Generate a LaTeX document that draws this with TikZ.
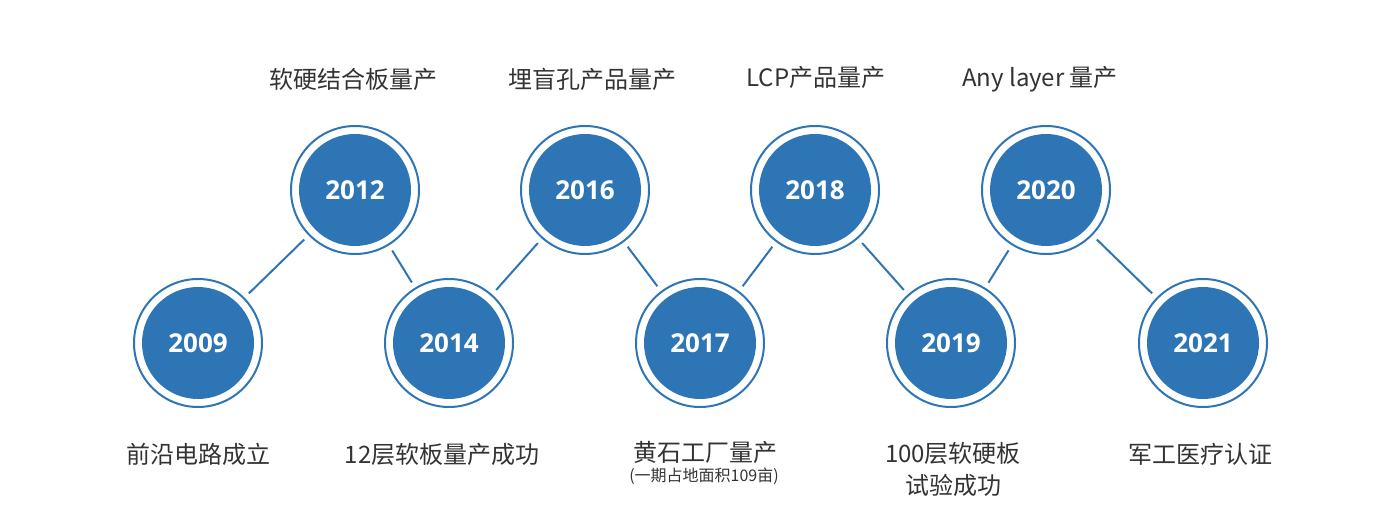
\documentclass[tikz,border=0pt]{standalone}
\usepackage{fontspec}
\setmainfont{Noto Sans CJK SC}
\newfontfamily\yearfont{Open Sans}[BoldFont={Open Sans Bold}]
\definecolor{tlblue}{HTML}{2E75B6}
\definecolor{tltext}{HTML}{333333}
\begin{document}
\begin{tikzpicture}[x=1pt,y=-1pt,
  yearnode/.style={circle,draw=tlblue,line width=2pt,minimum size=128pt,inner sep=0pt,
    path picture={\fill[tlblue] (path picture bounding box.center) circle (56pt);}},
  yeartext/.style={text=white,font=\yearfont\bfseries\fontsize{26}{30}\selectfont},
  conn/.style={draw=tlblue,line width=2pt,shorten >=6pt,shorten <=6pt},
  lbl/.style={text=tltext,font=\fontsize{24}{32}\selectfont,align=center,inner sep=0pt},
  small/.style={text=tltext,font=\fontsize{16}{20}\selectfont,inner sep=0pt}]
\useasboundingbox (0,0) rectangle (1400,518);
\node[yearnode] (c09) at (198,343) {};
\node[yearnode] (c12) at (355,190) {};
\node[yearnode] (c14) at (449,343) {};
\node[yearnode] (c16) at (585,190) {};
\node[yearnode] (c17) at (700,343) {};
\node[yearnode] (c18) at (815,190) {};
\node[yearnode] (c19) at (951,343) {};
\node[yearnode] (c20) at (1046,190) {};
\node[yearnode] (c21) at (1203,343) {};
\foreach \n/\y in {c09/2009,c12/2012,c14/2014,c16/2016,c17/2017,c18/2018,c19/2019,c20/2020,c21/2021}
  \node[yeartext] (t\n) at (\n) {\y};
\draw[conn] (c09) -- (c12);
\draw[conn] (c12) -- (c14);
\draw[conn] (c14) -- (c16);
\draw[conn] (c16) -- (c17);
\draw[conn] (c17) -- (c18);
\draw[conn] (c18) -- (c19);
\draw[conn] (c19) -- (c20);
\draw[conn] (c20) -- (c21);
\node[lbl] (l12) at (353,79) {软硬结合板量产};
\node[lbl] (l16) at (592,79) {埋盲孔产品量产};
\node[lbl] (l18) at (816,77) {LCP产品量产};
\node[lbl] (l20) at (1040,79) {Any layer 量产};
\node[lbl] (l09) at (198,454) {前沿电路成立};
\node[lbl] (l14) at (442,454) {12层软板量产成功};
\node[lbl] (l17) at (705,452) {黄石工厂量产};
\node[small] (s17) at (704,476) {(一期占地面积109亩)};
\node[lbl] (l19) at (953,469) {100层软硬板\\试验成功};
\node[lbl] (l21) at (1200,454) {军工医疗认证};
\end{tikzpicture}
\end{document}
